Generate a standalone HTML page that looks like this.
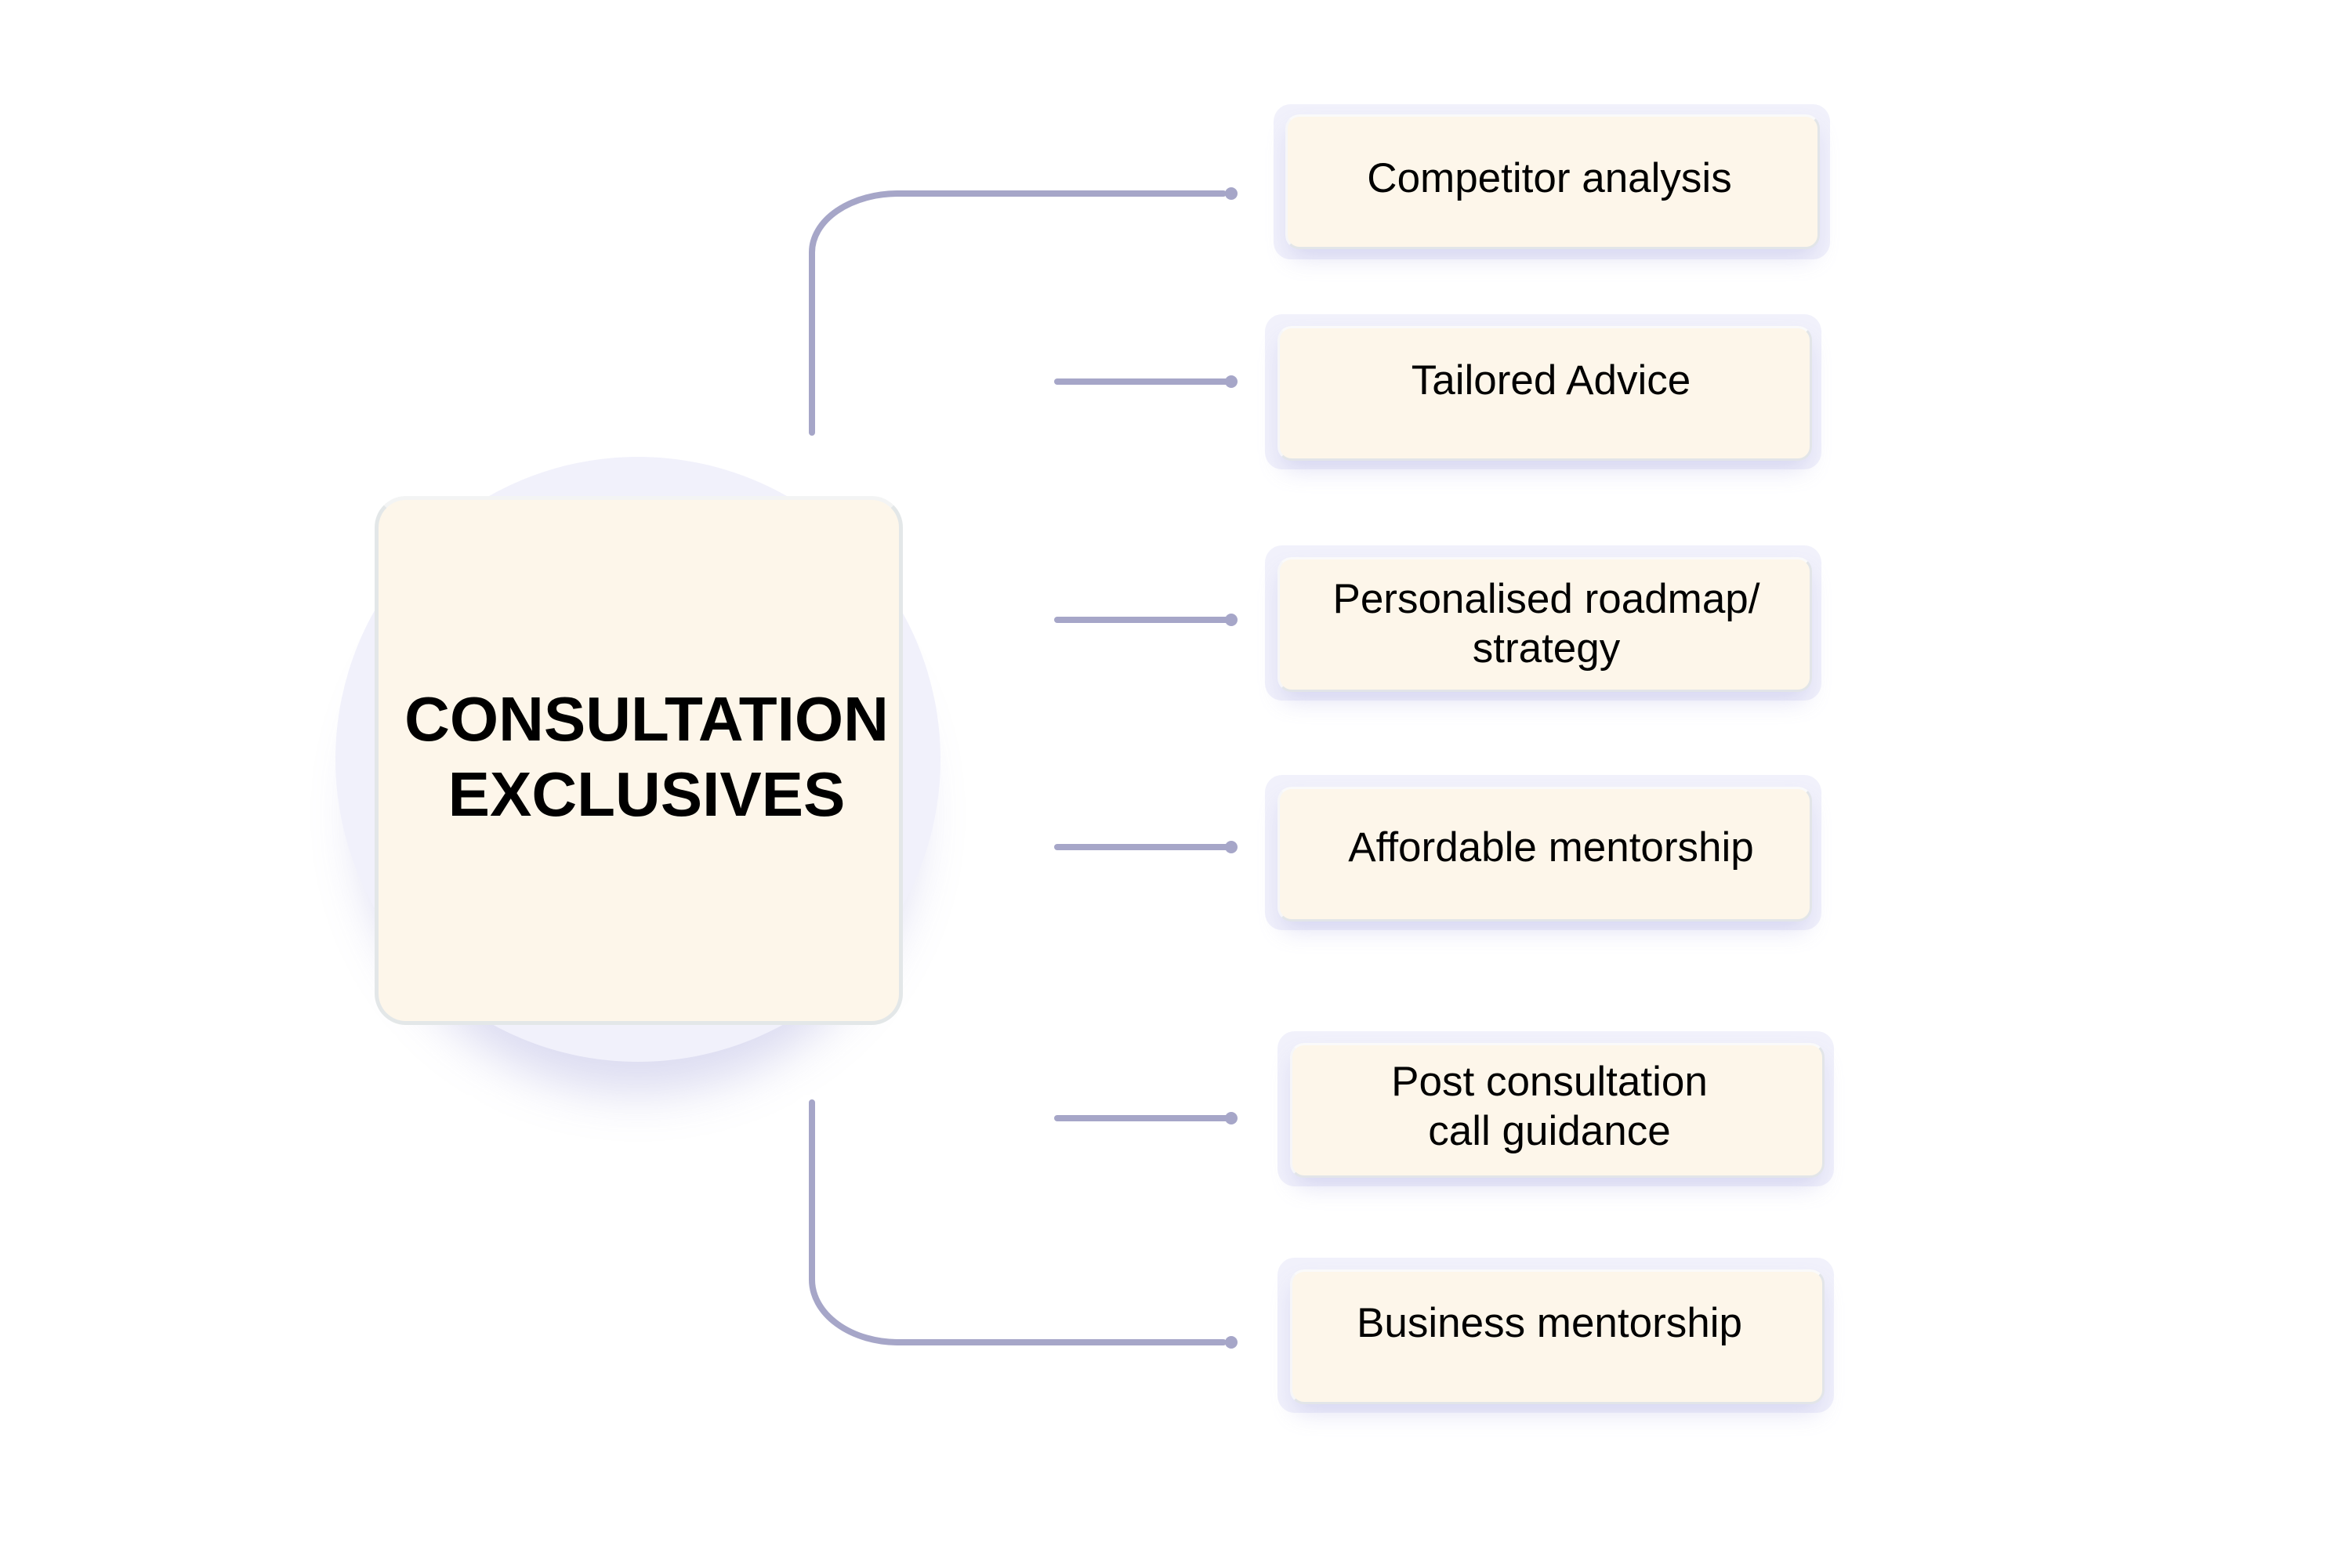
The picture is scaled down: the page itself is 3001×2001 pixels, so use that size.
<!DOCTYPE html>
<html><head><meta charset="utf-8"><style>
*{margin:0;padding:0;box-sizing:border-box}
body{width:3001px;height:2001px;background:#fff;position:relative;overflow:hidden;font-family:"Liberation Sans",Arial,sans-serif}
.abs{position:absolute}
.outer{position:absolute;background:#f1f1fb;border-radius:22px}
.inner{position:absolute;background:#fdf6ea;border-radius:18px;border:3px solid #e2e5e8;border-top-color:#fafafa;border-left-color:#f6f6f8;box-shadow:0 16px 30px -6px rgba(150,150,220,0.3);display:flex;align-items:center;justify-content:center;text-align:center;font-size:53px;line-height:63px;color:#000;padding-bottom:10px}
</style></head><body>
<div class="abs" style="left:428px;top:583px;width:772px;height:772px;border-radius:50%;background:#f1f1fb;box-shadow:0 70px 60px -30px rgba(140,140,210,0.3)"></div>
<div class="abs" style="left:478px;top:633px;width:674px;height:675px;background:#fdf6ea;border:5px solid #e3e7e8;border-top-color:#f3f4f4;border-radius:40px;display:flex;align-items:center;justify-content:center;text-align:center;font-weight:bold;font-size:80px;line-height:96px;color:#000;padding-left:20px;padding-bottom:10px">CONSULTATION<br>EXCLUSIVES</div>

<svg class="abs" style="left:0;top:0" width="3001" height="2001">
<g stroke="#a6a6c8" stroke-width="8" fill="none" stroke-linecap="round">
<path d="M1036 552 V322 A110 75 0 0 1 1146 247 H1561"/>
<path d="M1036 1407 V1633 A110 80 0 0 0 1146 1713 H1561"/>
<path d="M1349 487 H1571"/>
<path d="M1349 791 H1571"/>
<path d="M1349 1081 H1571"/>
<path d="M1349 1427 H1571"/>
</g>
<g fill="#a6a6c8">
<circle cx="1571" cy="247" r="8"/><circle cx="1571" cy="1713" r="8"/>
<circle cx="1571" cy="487" r="8"/><circle cx="1571" cy="791" r="8"/>
<circle cx="1571" cy="1081" r="8"/><circle cx="1571" cy="1427" r="8"/>
</g>
</svg>

<div class="outer" style="left:1625px;top:133px;width:710px;height:198px"></div>
<div class="inner" style="left:1640px;top:146px;width:682px;height:172px;padding-right:8px">Competitor analysis</div>

<div class="outer" style="left:1614px;top:401px;width:710px;height:198px"></div>
<div class="inner" style="left:1630px;top:416px;width:682px;height:172px;padding-bottom:33px;padding-left:16px">Tailored Advice</div>

<div class="outer" style="left:1614px;top:696px;width:710px;height:198px"></div>
<div class="inner" style="left:1630px;top:711px;width:682px;height:172px;padding-bottom:2px;padding-left:4px">Personalised roadmap/<br>strategy</div>

<div class="outer" style="left:1614px;top:989px;width:710px;height:198px"></div>
<div class="inner" style="left:1630px;top:1004px;width:682px;height:172px;padding-bottom:18px;padding-left:16px">Affordable mentorship</div>

<div class="outer" style="left:1630px;top:1316px;width:710px;height:198px"></div>
<div class="inner" style="left:1646px;top:1331px;width:682px;height:172px;padding-right:20px">Post consultation<br>call guidance</div>

<div class="outer" style="left:1630px;top:1605px;width:710px;height:198px"></div>
<div class="inner" style="left:1646px;top:1620px;width:682px;height:172px;padding-bottom:36px;padding-right:20px">Business mentorship</div>
</body></html>
